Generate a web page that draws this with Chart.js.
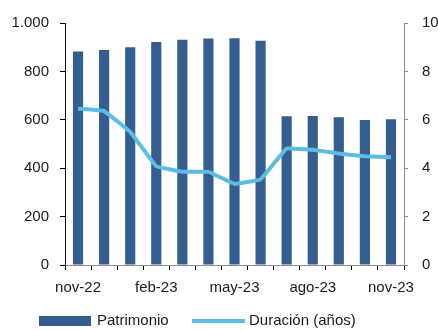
<!DOCTYPE html>
<html lang="es">
<head>
<meta charset="utf-8">
<script src="https://cdn.jsdelivr.net/npm/chart.js@4/dist/chart.umd.min.js"></script>
<style>
  html, body { margin: 0; padding: 0; background: #ffffff; }
  #wrap { width: 438px; height: 330px; }
</style>
</head>
<body>
<div id="wrap"><canvas id="c" width="438" height="330"></canvas></div>
<script>
// Monthly series
const categories = ['nov-22', 'dic-22', 'ene-23', 'feb-23', 'mar-23', 'abr-23', 'may-23',
                    'jun-23', 'jul-23', 'ago-23', 'sep-23', 'oct-23', 'nov-23'];
const patrimonio = [882, 888, 900, 921, 931, 936, 937, 927, 615, 616, 611, 599, 602];
const duracion = [6.46, 6.36, 5.50, 4.08, 3.85, 3.85, 3.35, 3.54, 4.81, 4.76, 4.61, 4.49, 4.45];
const leftTicks = [0, 200, 400, 600, 800, 1000];
const rightTicks = [0, 2, 4, 6, 8, 10];
const seriesNames = ['Patrimonio', 'Duración (años)'];

const BAR_COLOR = '#345e90';
const LINE_COLOR = '#5bbde4';
const TEXT_COLOR = '#1a1a1a';
const FONT = { family: "'Liberation Sans', Arial, sans-serif", size: 15 };

// Spanish thousands separator: 1000 -> "1.000"
function fmtEs(v) {
  return String(v).replace(/\B(?=(\d{3})+(?!\d))/g, '.');
}

// Legend drawn under the axis: a filled box for the bars, a stroke for the line
const bottomLegend = {
  id: 'bottomLegend',
  afterDraw(chart) {
    const ctx = chart.ctx;
    const y = 321;
    ctx.save();
    ctx.font = `${FONT.size}px ${FONT.family}`;
    ctx.textBaseline = 'middle';
    ctx.textAlign = 'left';
    ctx.fillStyle = chart.data.datasets[1].backgroundColor;
    ctx.fillRect(39, y - 5, 52, 10);
    ctx.fillStyle = TEXT_COLOR;
    ctx.fillText(chart.data.datasets[1].label, 97, y);

    ctx.strokeStyle = chart.data.datasets[0].borderColor;
    ctx.lineWidth = 4;
    ctx.beginPath();
    ctx.moveTo(192, y);
    ctx.lineTo(245, y);
    ctx.stroke();
    ctx.fillStyle = TEXT_COLOR;
    ctx.fillText(chart.data.datasets[0].label, 249, y);
    ctx.restore();
  }
};

new Chart(document.getElementById('c'), {
  type: 'bar',
  data: {
    labels: categories,
    datasets: [
      {
        type: 'line',
        label: seriesNames[1],
        data: duracion,
        yAxisID: 'y1',
        borderColor: LINE_COLOR,
        backgroundColor: LINE_COLOR,
        borderWidth: 4,
        borderJoinStyle: 'round',
        borderCapStyle: 'butt',
        pointRadius: 0,
        tension: 0.05,
        fill: false,
        order: 0
      },
      {
        type: 'bar',
        label: seriesNames[0],
        data: patrimonio,
        yAxisID: 'y',
        backgroundColor: BAR_COLOR,
        borderWidth: 0,
        categoryPercentage: 1,
        barPercentage: 0.39,
        order: 1
      }
    ]
  },
  options: {
    responsive: false,
    animation: false,
    devicePixelRatio: 1,
    layout: { padding: { top: 20, left: 0, right: 0, bottom: 0 } },
    plugins: {
      legend: { display: false },
      tooltip: { enabled: false }
    },
    scales: {
      x: {
        offset: true,
        grid: {
          offset: true,
          drawOnChartArea: false,
          drawTicks: true,
          tickLength: 5,
          color: '#000000',
          lineWidth: 1
        },
        border: { display: true, color: '#8c8c8c', width: 1 },
        ticks: {
          autoSkip: false,
          maxRotation: 0,
          padding: 9,
          color: TEXT_COLOR,
          font: FONT,
          callback(value, index) {
            return index % 3 === 0 ? categories[index] : '';
          }
        },
        afterFit(scale) { scale.height = 65; }
      },
      y: {
        position: 'left',
        min: leftTicks[0],
        max: leftTicks[leftTicks.length - 1],
        afterBuildTicks(scale) { scale.ticks = leftTicks.map(v => ({ value: v })); },
        grid: {
          drawOnChartArea: false,
          drawTicks: true,
          tickLength: 5,
          color: '#000000'
        },
        border: { display: true, color: '#1a1a1a', width: 1 },
        ticks: {
          padding: 11,
          color: TEXT_COLOR,
          font: FONT,
          callback(value) { return fmtEs(value); }
        },
        afterFit(scale) { scale.width = 65; }
      },
      y1: {
        position: 'right',
        min: rightTicks[0],
        max: rightTicks[rightTicks.length - 1],
        afterBuildTicks(scale) { scale.ticks = rightTicks.map(v => ({ value: v })); },
        grid: {
          drawOnChartArea: false,
          drawTicks: true,
          tickLength: 4,
          color: '#8c8c8c'
        },
        border: { display: true, color: '#8c8c8c', width: 1 },
        ticks: {
          padding: 14,
          color: TEXT_COLOR,
          font: FONT
        },
        afterFit(scale) { scale.width = 34; }
      }
    }
  },
  plugins: [bottomLegend]
});
</script>
</body>
</html>
